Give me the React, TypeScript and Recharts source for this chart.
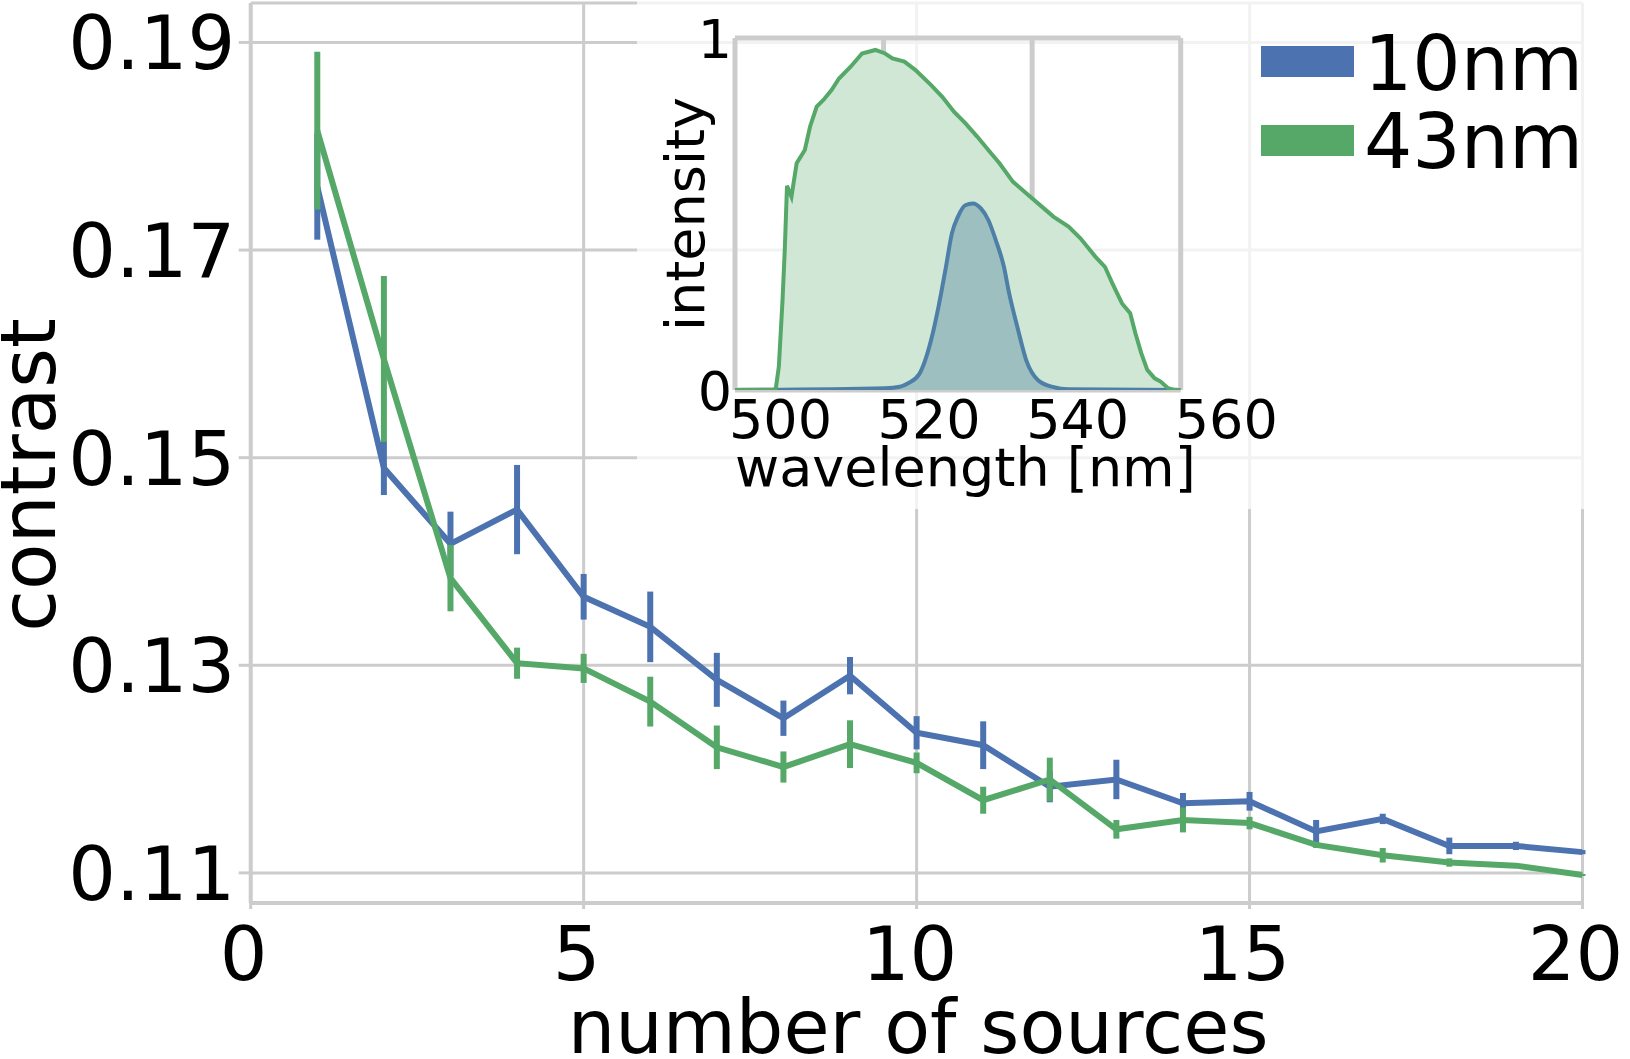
import React from 'react';
import {
  ComposedChart,
  Line,
  Area,
  ErrorBar,
  XAxis,
  YAxis,
  CartesianGrid,
  Legend,
  Label,
} from 'recharts';

// ---- main plot: contrast vs. number of sources ----
const sources = [1, 2, 3, 4, 5, 6, 7, 8, 9, 10, 11, 12, 13, 14, 15, 16, 17, 18, 19, 20];
const contrast10nm = [
  0.1761, 0.149, 0.1417, 0.145, 0.1366, 0.1337, 0.1286, 0.1249, 0.129, 0.1235,
  0.1223, 0.1183, 0.119, 0.1167, 0.1169, 0.114, 0.1152, 0.1126, 0.1126, 0.112,
];
const error10nm = [
  0.0051, 0.0026, 0.0031, 0.0043, 0.0022, 0.0034, 0.0026, 0.0017, 0.0018, 0.0016,
  0.0023, 0.0015, 0.0019, 0.001, 0.0009, 0.0011, 0.0005, 0.0008, 0.0004, 0.0002,
];
const contrast43nm = [
  0.1815, 0.1595, 0.1384, 0.1302, 0.1297, 0.1265, 0.1221, 0.1202, 0.1224, 0.1206,
  0.117, 0.119, 0.1142, 0.1151, 0.1148, 0.1127, 0.1117, 0.111, 0.1107, 0.1098,
];
const error43nm = [
  0.0076, 0.008, 0.0032, 0.0015, 0.0014, 0.0024, 0.0021, 0.0015, 0.0023, 0.001,
  0.0013, 0.0021, 0.0009, 0.0012, 0.0006, 0.0003, 0.0007, 0.0004, 0.0002, 0.0001,
];
const sourceTicks = [0, 5, 10, 15, 20];
const contrastTicks = [0.11, 0.13, 0.15, 0.17, 0.19];

// ---- inset: emission spectra ----
const wavelength43nm = [
  500, 505.2, 505.5, 505.9, 506.4, 506.7, 507.0, 507.6, 508.3, 509.4, 510.1, 511.0,
  511.9, 513.0, 514.0, 515.6, 517.1, 518.9, 520.2, 521.2, 522.8, 524.3, 526.4, 527.9,
  529.5, 531.0, 532.6, 534.1, 535.6, 537.4, 539.2, 541.3, 542.9, 544.9, 546.5, 548.5,
  549.8, 550.8, 552.1, 553.2, 553.9, 554.7, 555.5, 556.5, 557.3, 558.3, 559.1, 560,
];
const intensity43nm = [
  0, 0, 0.005, 0.066, 0.256, 0.398, 0.58, 0.549, 0.644, 0.682, 0.748, 0.805,
  0.824, 0.852, 0.885, 0.919, 0.956, 0.966, 0.956, 0.942, 0.933, 0.909, 0.866, 0.833,
  0.79, 0.758, 0.72, 0.682, 0.644, 0.592, 0.559, 0.521, 0.492, 0.464, 0.431, 0.379,
  0.35, 0.303, 0.246, 0.218, 0.161, 0.104, 0.057, 0.033, 0.024, 0.005, 0, 0,
];
const wavelength10nm = [
  500, 520.2, 522.2, 523.3, 524.8, 526.4, 527.4, 528.4, 529.2, 530.0, 531.0, 532.0,
  533.1, 534.1, 535.1, 536.2, 536.9, 538.0, 539.2, 540.8, 542.9, 544.9, 560,
];
const intensity10nm = [
  0, 0.005, 0.009, 0.019, 0.045, 0.142, 0.237, 0.35, 0.445, 0.492, 0.525, 0.53,
  0.516, 0.483, 0.426, 0.35, 0.275, 0.18, 0.085, 0.028, 0.008, 0.002, 0,
];
const wavelengthTicks = [500, 520, 540, 560];
const intensityTicks = [0, 1];

const FONT = '"DejaVu Sans", sans-serif';
const BLUE = '#4c72b0';
const GREEN = '#55a868';
const GRID = '#cccccc';

const contrastRows = sources.map((n, i) => ({
  n,
  nm10: contrast10nm[i],
  err10: error10nm[i],
  nm43: contrast43nm[i],
  err43: error43nm[i],
}));
const spectrum43 = wavelength43nm.map((w, i) => ({ w, v: intensity43nm[i] }));
const spectrum10 = wavelength10nm.map((w, i) => ({ w, v: intensity10nm[i] }));

const SourceTick = (props: any) => {
  const { x, y, payload } = props;
  return (
    <text x={x - 7} y={y + 69} textAnchor="middle" fontSize={75} fontFamily={FONT} fill="#000">
      {payload.value}
    </text>
  );
};

const ContrastTick = (props: any) => {
  const { x, y, payload } = props;
  return (
    <text x={x - 1.5} y={y + 27} textAnchor="end" fontSize={75} fontFamily={FONT} fill="#000">
      {Number(payload.value).toFixed(2)}
    </text>
  );
};

const SourceAxisLabel = (props: any) => {
  const vb = props.viewBox;
  return (
    <text x={vb.x + vb.width / 2 + 1.5} y={vb.y + 150} textAnchor="middle" fontSize={75} fontFamily={FONT} fill="#000">
      number of sources
    </text>
  );
};

const ContrastAxisLabel = (props: any) => {
  const vb = props.viewBox;
  const cx = vb.x + 55;
  const cy = vb.y + vb.height / 2 + 22;
  return (
    <text x={cx} y={cy} transform={`rotate(-90 ${cx} ${cy})`} textAnchor="middle" fontSize={76} fontFamily={FONT} fill="#000">
      contrast
    </text>
  );
};

const WavelengthTick = (props: any) => {
  const { x, y, payload } = props;
  return (
    <text x={x - 6} y={y + 48} textAnchor="start" fontSize={54} fontFamily={FONT} fill="#000">
      {payload.value}
    </text>
  );
};

const IntensityTick = (props: any) => {
  const { x, y, payload } = props;
  return (
    <text x={x - 3} y={y + 19.7} textAnchor="end" fontSize={54} fontFamily={FONT} fill="#000">
      {payload.value}
    </text>
  );
};

const WavelengthLabel = (props: any) => {
  const vb = props.viewBox;
  return (
    <text x={vb.x + vb.width / 2 + 7.6} y={vb.y + 96} textAnchor="middle" fontSize={54} fontFamily={FONT} fill="#000">
      wavelength [nm]
    </text>
  );
};

const IntensityLabel = (props: any) => {
  const vb = props.viewBox;
  const cx = vb.x + vb.width - 31;
  const cy = vb.y + vb.height / 2;
  return (
    <text x={cx} y={cy} transform={`rotate(-90 ${cx} ${cy})`} textAnchor="middle" fontSize={54} fontFamily={FONT} fill="#000">
      intensity
    </text>
  );
};

const LegendBox = (props: any) => {
  const items = (props.payload || []).filter((p: any) => p.value === '10nm' || p.value === '43nm');
  return (
    <svg width={369} height={180} style={{ display: 'block', overflow: 'visible' }}>
      {items.map((p: any, i: number) => (
        <g key={p.value}>
          <rect x={0} y={16 + 79 * i} width={93} height={31} fill={p.color} />
          <text x={103} y={60 + 78 * i} fontSize={76} fontFamily={FONT} fill="#000">
            {p.value}
          </text>
        </g>
      ))}
    </svg>
  );
};

export default function App() {
  return (
    <div style={{ position: 'absolute', left: 0, top: 0, width: 1630, height: 1059, background: '#fff' }}>
      <ComposedChart
        width={1630}
        height={1059}
        data={contrastRows}
        margin={{ top: 3, right: 47.5, bottom: 0, left: 0 }}
      >
        <CartesianGrid stroke={GRID} strokeWidth={3} />
        <XAxis
          dataKey="n"
          type="number"
          domain={[0, 20]}
          ticks={sourceTicks}
          interval={0}
          height={156}
          axisLine={{ stroke: GRID, strokeWidth: 4 }}
          tickLine={{ stroke: GRID, strokeWidth: 3 }}
          tickSize={6}
          tick={<SourceTick />}
          allowDataOverflow
        >
          <Label content={<SourceAxisLabel />} />
        </XAxis>
        <YAxis
          type="number"
          domain={[0.1071, 0.1938]}
          ticks={contrastTicks}
          interval={0}
          width={250.7}
          axisLine={{ stroke: GRID, strokeWidth: 4 }}
          tickLine={{ stroke: GRID, strokeWidth: 3 }}
          tickSize={12}
          tick={<ContrastTick />}
          allowDataOverflow
        >
          <Label content={<ContrastAxisLabel />} />
        </YAxis>
        <Line
          dataKey="nm10"
          name="10nm"
          stroke={BLUE}
          strokeWidth={6}
          dot={false}
          activeDot={false}
          isAnimationActive={false}
        >
          <ErrorBar dataKey="err10" direction="y" width={0} stroke={BLUE} strokeWidth={6} isAnimationActive={false} />
        </Line>
        <Line
          dataKey="nm43"
          name="43nm"
          stroke={GREEN}
          strokeWidth={6}
          dot={false}
          activeDot={false}
          isAnimationActive={false}
        >
          <ErrorBar dataKey="err43" direction="y" width={0} stroke={GREEN} strokeWidth={6} isAnimationActive={false} />
        </Line>
        <Legend
          layout="horizontal"
          verticalAlign="middle"
          align="center"
          content={<LegendBox />}
          wrapperStyle={{ position: 'absolute', left: 1260.7, top: 30, width: 369, height: 180, zIndex: 3 }}
        />
      </ComposedChart>

      {/* translucent backdrop behind the inset */}
      <div
        style={{
          position: 'absolute',
          left: 637,
          top: 0,
          width: 963,
          height: 509,
          background: 'rgba(255,255,255,0.75)',
          zIndex: 1,
        }}
      />

      <div style={{ position: 'absolute', left: 637, top: 0, zIndex: 2 }}>
        <ComposedChart width={700} height={509} margin={{ top: 38, right: 156.3, bottom: 0, left: 0 }}>
          <CartesianGrid stroke={GRID} strokeWidth={5} />
          <XAxis
            dataKey="w"
            type="number"
            domain={[500, 560]}
            ticks={wavelengthTicks}
            interval={0}
            height={119}
            axisLine={false}
            tickLine={false}
            tickSize={0}
            tickMargin={0}
            tick={<WavelengthTick />}
            allowDataOverflow
          >
            <Label content={<WavelengthLabel />} />
          </XAxis>
          <YAxis
            type="number"
            domain={[0, 1]}
            ticks={intensityTicks}
            interval={0}
            width={98}
            axisLine={false}
            tickLine={false}
            tickSize={0}
            tickMargin={0}
            tick={<IntensityTick />}
            allowDataOverflow
          >
            <Label content={<IntensityLabel />} />
          </YAxis>
          <Area
            data={spectrum43}
            dataKey="v"
            type="linear"
            fill="#d0e7d6"
            fillOpacity={1}
            stroke="none"
            dot={false}
            activeDot={false}
            isAnimationActive={false}
          />
          <Area
            data={spectrum10}
            dataKey="v"
            type="monotone"
            fill="#9dbfc0"
            fillOpacity={1}
            stroke="#4e7fa6"
            strokeWidth={4}
            dot={false}
            activeDot={false}
            isAnimationActive={false}
          />
          <Line
            data={spectrum43}
            dataKey="v"
            type="linear"
            stroke={GREEN}
            strokeWidth={4}
            dot={false}
            activeDot={false}
            isAnimationActive={false}
          />
        </ComposedChart>
      </div>
    </div>
  );
}
